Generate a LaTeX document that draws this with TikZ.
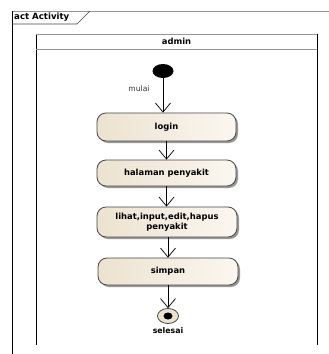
\documentclass[tikz,border=0pt]{standalone}
\usepackage{fontspec}
\setmainfont{DejaVu Sans}
\usetikzlibrary{arrows.meta,shapes.geometric}
\definecolor{linegray}{RGB}{150,150,150}
\definecolor{boxleft}{RGB}{236,226,208}
\definecolor{boxright}{RGB}{251,247,240}
\definecolor{boxedge}{RGB}{70,70,70}
\tikzset{
  actbox/.style={rounded corners=9pt, draw=boxedge, line width=0.8pt,
    left color=boxleft, right color=boxright, minimum width=139pt,
    align=center, font=\fontsize{8.4}{9.5}\selectfont\bfseries, inner sep=0pt},
  boxshadow/.style={rounded corners=9pt, fill=black!40, draw=none},
  flow/.style={draw=black, line width=0.7pt, -{Straight Barb[length=9pt,width=15pt,line width=0.7pt]}},
  lbl/.style={font=\fontsize{7.6}{9}\selectfont, inner sep=0pt}
}
\begin{document}
\begin{tikzpicture}[x=1pt,y=-1pt]
\useasboundingbox (0,0) rectangle (329,354);
\fill[white] (0,0) rectangle (329,354);
% outer frame
\draw[linegray, line width=0.9pt] (12,11) -- (329,11);
\draw[black, line width=0.9pt] (12,11) -- (12,354);
\draw[boxedge, line width=0.7pt] (12,24) -- (77,24) -- (90,11);
\node[anchor=west, font=\fontsize{8.6}{10}\selectfont\bfseries, inner sep=0pt] (frametitle) at (14,17.5) {act Activity};
% swimlane
\draw[black, line width=0.9pt] (36,34) -- (36,345);
\draw[black, line width=0.9pt] (317,34) -- (317,345);
\draw[linegray, line width=0.9pt] (36,34) -- (317,34);
\draw[linegray, line width=0.9pt] (36,49) -- (317,49);
\node[font=\fontsize{8.4}{10}\selectfont\bfseries, inner sep=0pt] (lane) at (176.5,41.5) {admin};
% initial node
\node[ellipse, fill=black, minimum width=21pt, minimum height=14pt, inner sep=0pt] (start) at (163,71) {};
\node[lbl, anchor=center, text=black!80] (mulai) at (139,89) {mulai};
% shadows
\fill[boxshadow] (99,115) rectangle (238,143);
\fill[boxshadow] (99,162) rectangle (238,188);
\fill[boxshadow] (99,209) rectangle (239,239);
\fill[boxshadow] (100,260) rectangle (240,287);
% action nodes
\node[actbox, minimum height=28pt] (login) at (166.5,127) {login};
\node[actbox, minimum height=26pt] (halaman) at (166.5,173) {halaman penyakit};
\node[actbox, minimum height=30pt, minimum width=140pt] (lihat) at (167,222) {lihat,input,edit,hapus\\penyakit};
\node[actbox, minimum height=27pt, minimum width=140pt] (simpan) at (168,271.5) {simpan};
% final node
\node[ellipse, draw=boxedge, line width=0.8pt, fill=boxleft, minimum width=21pt, minimum height=15pt, inner sep=0pt] (final) at (168,316) {};
\node[ellipse, fill=black, minimum width=9pt, minimum height=7pt, inner sep=0pt] (finaldot) at (final.center) {};
\node[lbl, font=\fontsize{7.8}{9}\selectfont\bfseries] (selesai) at (168,331) {selesai};
% flows
\draw[flow] (start.south) -- (start.south |- login.north);
\draw[flow] (login.south -| 166.5,0) -- (halaman.north);
\draw[flow] (halaman.south) -- (halaman.south |- lihat.north);
\draw[flow] (lihat.south -| 168,0) -- (simpan.north);
\draw[flow] (simpan.south) -- (final.north);
\end{tikzpicture}
\end{document}
